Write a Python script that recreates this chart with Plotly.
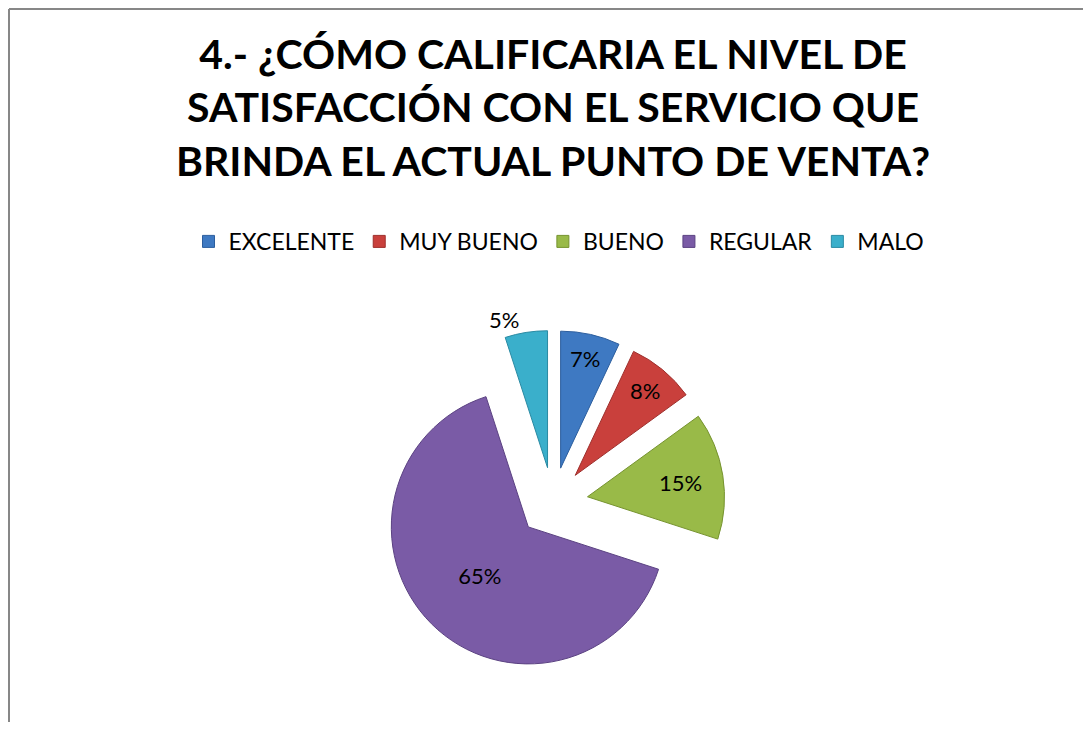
import plotly.graph_objects as go

categories = ["EXCELENTE", "MUY BUENO", "BUENO", "REGULAR", "MALO"]
values = [7, 8, 15, 65, 5]
colors = ["#3E79C2", "#C9403C", "#99BA48", "#7A5BA6", "#3AAFCB"]
line_colors = ["#2C5E9E", "#9E2F2C", "#76932F", "#5B4282", "#2A8AA3"]
text_positions = ["inside", "inside", "inside", "inside", "outside"]

W, H = 1091, 731

fig = go.Figure()
fig.add_trace(go.Pie(
    labels=categories,
    values=values,
    sort=False,
    direction="clockwise",
    rotation=0,
    pull=[0.255] * len(values),
    marker=dict(colors=colors, line=dict(color=line_colors, width=1)),
    texttemplate="%{percent:.0%}",
    textinfo="percent",
    textposition=text_positions,
    insidetextorientation="horizontal",
    textfont=dict(family="Lato", size=22, color="#000000"),
    hoverinfo="label+percent",
    domain=dict(x=[369 / W, 721 / W], y=[1 - 682 / H, 1 - 330 / H]),
    showlegend=True,
))

fig.update_layout(
    width=W, height=H,
    margin=dict(l=0, r=0, t=0, b=0),
    paper_bgcolor="white",
    plot_bgcolor="white",
    title=dict(
        text="4.- ¿CÓMO CALIFICARIA EL NIVEL DE<br>SATISFACCIÓN CON EL SERVICIO QUE<br>BRINDA EL ACTUAL PUNTO DE VENTA?",
        font=dict(family="Lato", size=41, color="#000000", weight="bold"),
        x=545 / W, xanchor="center",
        y=1 - 61 / H, yanchor="top",
    ),
    legend=dict(
        orientation="h",
        x=551 / W, xanchor="center",
        y=1 - 239 / H, yanchor="middle",
        font=dict(family="Lato", size=23, color="#000000"),
        itemwidth=30,
        traceorder="normal",
    ),
    shapes=[
        dict(type="line", xref="paper", yref="paper",
             x0=1 / W, x1=1 / W, y0=0, y1=1 - 1 / H,
             line=dict(color="#878787", width=2)),
        dict(type="line", xref="paper", yref="paper",
             x0=1 / W, x1=1, y0=1 - 1 / H, y1=1 - 1 / H,
             line=dict(color="#878787", width=2)),
    ],
)

fig.write_html("out.html")
